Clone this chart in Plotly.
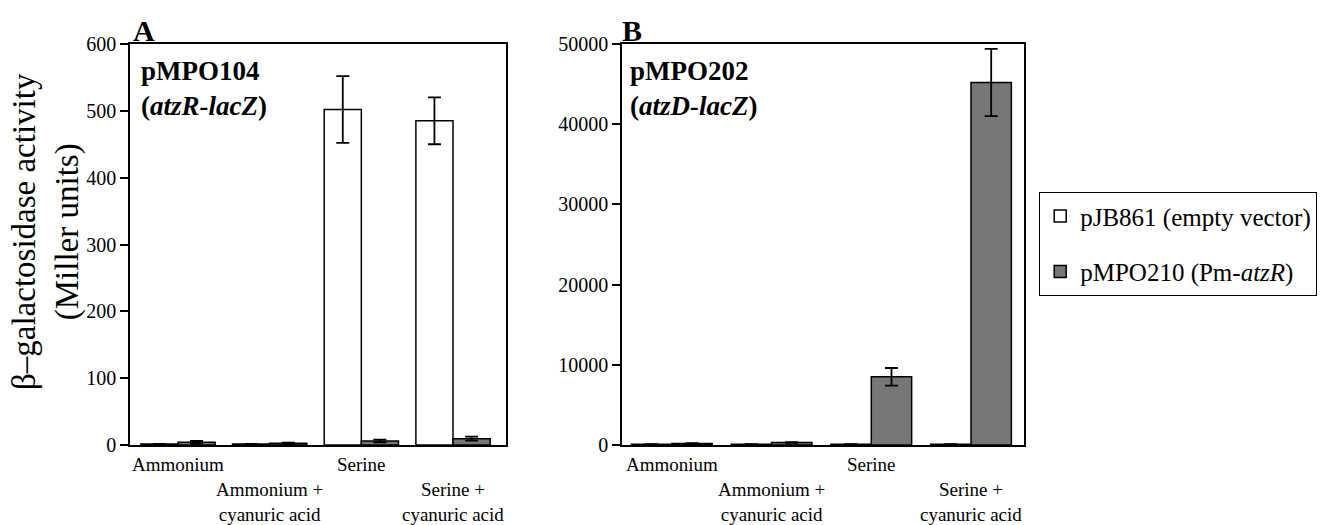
import plotly.graph_objects as go

categories = ["Ammonium", "Ammonium + cyanuric acid", "Serine", "Serine + cyanuric acid"]
cat_labels = ["Ammonium", "Ammonium +<br>cyanuric acid", "Serine", "Serine +<br>cyanuric acid"]
series_names = ["pJB861 (empty vector)", "pMPO210 (Pm-<i>atzR</i>)"]

# Panel A (pMPO104, atzR-lacZ)
a_empty = [1.5, 1.5, 502, 485]
a_empty_err = [0, 0, 50, 35]
a_atzr = [4, 2.5, 6, 9.5]
a_atzr_err = [2, 1, 2, 3]

# Panel B (pMPO202, atzD-lacZ)
b_empty = [100, 100, 100, 100]
b_empty_err = [0, 0, 0, 0]
b_atzr = [200, 300, 8500, 45200]
b_atzr_err = [30, 40, 1100, 4200]

a_ticks = [0, 100, 200, 300, 400, 500, 600]
b_ticks = [0, 10000, 20000, 30000, 40000, 50000]

FONT = "Liberation Serif, Times New Roman, serif"
GRAY = "#777777"

W, H = 1331, 525
def px(x):
    return x / W
def py(y):
    return (H - y) / H

fig = go.Figure()

def add_panel(xa, ya, empty, empty_err, atzr, atzr_err, show):
    fig.add_trace(go.Bar(
        x=categories, y=empty, name=series_names[0], xaxis=xa, yaxis=ya,
        marker=dict(color="white", line=dict(color="black", width=1.5)),
        error_y=dict(type="data", array=empty_err, color="black", thickness=1.8, width=6.5, visible=True),
        showlegend=show, legendgroup="g1"))
    fig.add_trace(go.Bar(
        x=categories, y=atzr, name=series_names[1], xaxis=xa, yaxis=ya,
        marker=dict(color=GRAY, line=dict(color="black", width=1.5)),
        error_y=dict(type="data", array=atzr_err, color="black", thickness=1.8, width=6.5, visible=True),
        showlegend=show, legendgroup="g2"))

add_panel("x", "y", a_empty, a_empty_err, a_atzr, a_atzr_err, True)
add_panel("x2", "y2", b_empty, b_empty_err, b_atzr, b_atzr_err, False)

ydom = [py(445), py(44)]
axis_common = dict(showline=True, linecolor="black", linewidth=1.5, mirror=True,
                   showgrid=False, zeroline=False, automargin=False)
tick_common = dict(ticks="outside", ticklen=8, tickwidth=1.5, tickcolor="black",
                   tickfont=dict(family=FONT, size=20, color="black"))

fig.update_layout(
    width=W, height=H,
    margin=dict(l=0, r=0, t=0, b=0),
    paper_bgcolor="white", plot_bgcolor="white",
    barmode="group", bargap=0.19, bargroupgap=0,
    font=dict(family=FONT, color="black", size=18),
    xaxis=dict(domain=[px(130), px(506)], anchor="y", showticklabels=False, ticks="", **axis_common),
    yaxis=dict(domain=ydom, anchor="x", range=[0, 600], tickvals=a_ticks,
               ticktext=[str(t) for t in a_ticks], **tick_common, **axis_common),
    xaxis2=dict(domain=[px(622), px(1024)], anchor="y2", showticklabels=False, ticks="", **axis_common),
    yaxis2=dict(domain=ydom, anchor="x2", range=[0, 50000], tickvals=b_ticks,
                ticktext=[str(t) for t in b_ticks], **tick_common, **axis_common),
    legend=dict(x=px(1039), y=py(192), xanchor="left", yanchor="top",
                bgcolor="white", bordercolor="black", borderwidth=1.2,
                font=dict(family=FONT, size=25, color="black"),
                traceorder="grouped", tracegroupgap=20),
)

ann = []
# y-axis title
ann.append(dict(x=px(46), y=py(232), xref="paper", yref="paper",
                text="β–galactosidase activity<br>(Miller units)", textangle=-90,
                showarrow=False, font=dict(family=FONT, size=33, color="black"),
                xanchor="center", yanchor="middle"))
# panel letters
ann.append(dict(x=px(131), y=py(30), xref="paper", yref="paper", text="<b>A</b>",
                showarrow=False, font=dict(family=FONT, size=30, color="black"),
                xanchor="left", yanchor="middle"))
ann.append(dict(x=px(620), y=py(30), xref="paper", yref="paper", text="<b>B</b>",
                showarrow=False, font=dict(family=FONT, size=30, color="black"),
                xanchor="left", yanchor="middle"))
# inset labels
ann.append(dict(x=px(139), y=py(88), xref="paper", yref="paper",
                text="<b>pMPO104<br>(<i>atzR-lacZ</i>)</b>", align="left",
                showarrow=False, font=dict(family=FONT, size=27, color="black"),
                xanchor="left", yanchor="middle"))
ann.append(dict(x=px(628), y=py(88), xref="paper", yref="paper",
                text="<b>pMPO202<br>(<i>atzD-lacZ</i>)</b>", align="left",
                showarrow=False, font=dict(family=FONT, size=27, color="black"),
                xanchor="left", yanchor="middle"))
# category labels (staggered)
for xr in ["x", "x2"]:
    for i, (c, lab) in enumerate(zip(categories, cat_labels)):
        yy = py(464) if i % 2 == 0 else py(502)
        ann.append(dict(x=c, y=yy, xref=xr, yref="paper", text=lab, showarrow=False,
                        font=dict(family=FONT, size=19, color="black"),
                        xanchor="center", yanchor="middle", align="center"))

fig.update_layout(annotations=ann)
fig.write_html("out.html", config={"displayModeBar": False},
               post_script="document.body.style.margin='0';document.body.style.overflow='hidden';")
